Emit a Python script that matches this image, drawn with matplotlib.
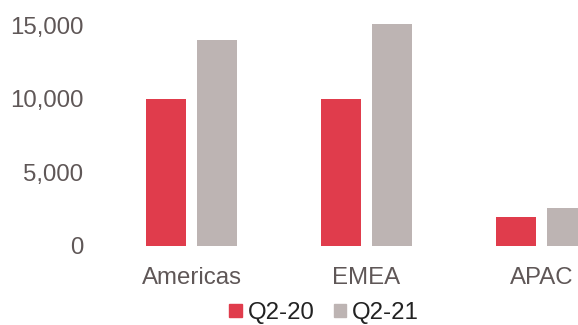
import matplotlib
matplotlib.use("Agg")
import matplotlib.pyplot as plt
from matplotlib.patches import Patch
import numpy as np

categories = ["Americas", "EMEA", "APAC"]
q2_20 = [10000, 10000, 1950]
q2_21 = [14000, 15050, 2600]
series_names = ["Q2-20", "Q2-21"]
ytick_vals = [0, 5000, 10000, 15000]
ytick_labels = ["0", "5,000", "10,000", "15,000"]

red = "#E03C4C"
gray = "#BDB4B3"
tick_color = "#5F5757"

plt.rcParams['font.family'] = ['Liberation Sans', 'DejaVu Sans']

W, H = 578, 325
fig = plt.figure(figsize=(W / 100, H / 100), dpi=100)

# axes in pixel coords: left 104, right 629, bottom (from top) 246, top ~10
left_px, right_px = 104, 629
bottom_px, top_px = 246, 246 - 16 * 14.73
ax = fig.add_axes([left_px / W, (H - bottom_px) / H,
                   (right_px - left_px) / W, (bottom_px - top_px) / H])

x = np.arange(len(categories))
bw = 0.226
gap = 0.063
ax.bar(x - (bw + gap) / 2, q2_20, width=bw, color=red, label=series_names[0])
ax.bar(x + (bw + gap) / 2, q2_21, width=bw, color=gray, label=series_names[1])

ax.set_xlim(-0.5, 2.5)
ax.set_ylim(0, 16000)
ax.set_yticks(ytick_vals)
ax.set_yticklabels(ytick_labels)
ax.set_xticks(x)
ax.set_xticklabels(categories)
ax.tick_params(axis='y', length=0, pad=15, labelsize=17.3, labelcolor=tick_color)
ax.tick_params(axis='x', length=0, pad=15, labelsize=17.3, labelcolor=tick_color)
for s in ax.spines.values():
    s.set_visible(False)

handles = [Patch(color=red), Patch(color=gray)]
fig.legend(handles, series_names, loc='center', bbox_to_anchor=(324 / W, 12 / H),
           ncol=2, frameon=False, fontsize=17.3, handlelength=0.5, handleheight=0.5,
           handletextpad=0.25, columnspacing=0.8, borderpad=0, labelcolor="#222222")

fig.savefig("out.png", dpi=100)
